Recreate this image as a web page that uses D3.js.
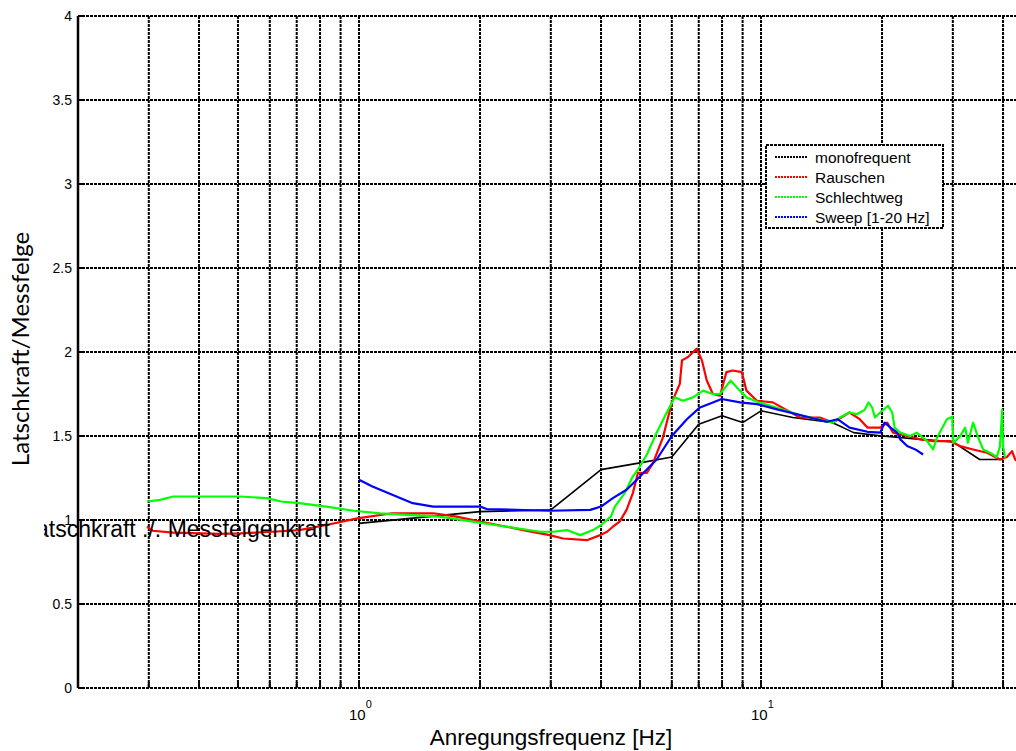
<!DOCTYPE html>
<html>
<head>
<meta charset="utf-8">
<script src="https://cdn.jsdelivr.net/npm/d3@7"></script>
<style>
  body { margin: 0; background: #fff; }
  svg { display: block; font-family: "Liberation Sans", Arial, sans-serif; }
</style>
</head>
<body>
<div id="chart"></div>
<script>
// data
var monoFreq = [1, 2, 3, 4, 5, 6, 7, 8, 9, 10, 12, 15, 16, 17, 20, 25, 30, 35, 40];
var monoVal = [0.98, 1.05, 1.06, 1.30, 1.34, 1.375, 1.57, 1.62, 1.58, 1.65, 1.61, 1.58, 1.55, 1.52, 1.50, 1.48, 1.465, 1.36, 1.36];

var rauschFreq = [0.297, 0.307, 0.345, 0.45, 0.506, 0.61, 0.71, 0.83, 0.99, 1.21, 1.53, 1.75, 2.0, 2.33, 2.56, 2.98, 3.22, 3.69, 3.98, 4.14, 4.28, 4.45,
  4.63, 4.8, 4.94, 5.2, 5.39, 5.7, 6.0, 6.28, 6.36, 6.58, 6.92, 7.13, 7.33, 7.59, 7.91, 8.2, 8.5, 8.96, 9.2, 9.77, 10.7, 12.5, 14.0, 15.1, 16.6,
  17.6, 18.4, 19.8, 20.6, 21.3, 23.1, 24.9, 26.8, 29.5, 31.3, 33.7, 36.5, 39.3, 40.9, 42.1, 42.9, 44];
var rauschVal = [0.96, 0.936, 0.925, 0.917, 0.92, 0.93, 0.94, 0.97, 1.01, 1.04, 1.04, 1.02, 0.99, 0.96, 0.94, 0.91, 0.89, 0.88, 0.91, 0.93, 0.96, 0.99,
  1.06, 1.16, 1.28, 1.28, 1.34, 1.49, 1.70, 1.81, 1.95, 1.97, 2.02, 1.95, 1.83, 1.75, 1.74, 1.88, 1.89, 1.88, 1.77, 1.71, 1.70, 1.61, 1.61, 1.58, 1.64,
  1.60, 1.55, 1.55, 1.58, 1.52, 1.50, 1.48, 1.47, 1.47, 1.44, 1.42, 1.40, 1.36, 1.375, 1.41, 1.36, 1.34];

var schlechtFreq = [0.297, 0.32, 0.345, 0.42, 0.506, 0.59, 0.64, 0.71, 0.83, 0.97, 1.13, 1.32, 1.59, 1.92, 2.33, 2.82, 3.04, 3.29, 3.55, 3.82, 4.0, 4.23,
  4.33, 4.58, 4.8, 4.94, 5.2, 5.5, 5.83, 6.1, 6.4, 6.77, 7.18, 7.59, 7.91, 8.4, 8.7, 9.2, 9.9, 10.9, 12.5, 15.1, 15.7, 16.6, 17.3, 18.1, 18.5, 18.9,
  19.2, 19.8, 20.7, 21.2, 21.5, 22.2, 23.5, 24.4, 25.9, 26.8, 27.4, 29.0, 29.9, 30.1, 31.3, 32.2, 32.7, 33.7, 34.7, 35.7, 37.1, 38.6, 39.3, 39.8,
  40.0, 40.5];
var schlechtVal = [1.11, 1.12, 1.14, 1.14, 1.14, 1.13, 1.11, 1.10, 1.08, 1.055, 1.04, 1.03, 1.02, 0.99, 0.96, 0.93, 0.93, 0.94, 0.91, 0.94, 0.97, 1.02,
  1.08, 1.16, 1.26, 1.30, 1.39, 1.52, 1.64, 1.73, 1.71, 1.73, 1.77, 1.75, 1.75, 1.83, 1.79, 1.73, 1.70, 1.67, 1.625, 1.58, 1.61, 1.64, 1.63, 1.655, 1.70, 1.67,
  1.61, 1.64, 1.68, 1.64, 1.55, 1.52, 1.50, 1.52, 1.47, 1.42, 1.49, 1.60, 1.615, 1.46, 1.50, 1.55, 1.46, 1.58, 1.49, 1.42, 1.40, 1.375, 1.44, 1.655,
  1.44, 1.37];

var sweepFreq = [1.0, 1.08, 1.21, 1.36, 1.53, 2.0, 2.08, 2.98, 3.76, 4.0, 4.28, 4.63, 4.91, 5.5, 6.0, 6.54, 7.05, 7.59, 7.98, 8.87, 9.77, 10.9, 12.5,
  14.6, 15.5, 16.6, 18.4, 19.8, 20.3, 21.0, 21.8, 22.2, 23.1, 24.2, 25.3];
var sweepVal = [1.24, 1.20, 1.15, 1.10, 1.08, 1.08, 1.065, 1.055, 1.06, 1.08, 1.13, 1.18, 1.24, 1.36, 1.50, 1.60, 1.67, 1.70, 1.72, 1.70, 1.69, 1.66, 1.625,
  1.585, 1.60, 1.55, 1.525, 1.52, 1.58, 1.55, 1.52, 1.48, 1.44, 1.42, 1.39];

var seriesNames = ["monofrequent", "Rauschen", "Schlechtweg", "Sweep [1-20 Hz]"];
var seriesColors = ["#000000", "#ff0000", "#00ff00", "#0000ff"];

var yTicks = [0, 0.5, 1, 1.5, 2, 2.5, 3, 3.5, 4];
var xGrid = [0.3, 0.4, 0.5, 0.6, 0.7, 0.8, 0.9, 1, 2, 3, 4, 5, 6, 7, 8, 9, 10, 20, 30, 40];
var xLabels = [1, 10];

var W = 1016, H = 751;

var svg = d3.select("#chart").append("svg")
  .attr("width", W)
  .attr("height", H);

var x = d3.scaleLog().domain([0.2, 50]).range([78, 1042]);
var y = d3.scaleLinear().domain([0, 4]).range([688, 16]);

var plotLeft = x(0.2), plotTop = y(4), plotBottom = y(0);

var defs = svg.append("defs");

// grid
var grid = svg.append("g")
  .attr("stroke", "#000")
  .attr("stroke-width", 2)
  .attr("stroke-dasharray", "3,1");

grid.selectAll(".vg")
  .data(xGrid)
  .enter()
  .append("line")
  .attr("x1", function (d) { return x(d); })
  .attr("x2", function (d) { return x(d); })
  .attr("y1", plotTop)
  .attr("y2", plotBottom);

grid.selectAll(".hg")
  .data(yTicks)
  .enter()
  .append("line")
  .attr("x1", plotLeft)
  .attr("x2", W)
  .attr("y1", function (d) { return y(d); })
  .attr("y2", function (d) { return y(d); });

// small ticks
var ticks = svg.append("g").attr("stroke", "#000").attr("stroke-width", 2);
ticks.selectAll(".xt")
  .data(xGrid)
  .enter()
  .append("line")
  .attr("x1", function (d) { return x(d); })
  .attr("x2", function (d) { return x(d); })
  .attr("y1", plotBottom)
  .attr("y2", plotBottom - 6);
ticks.selectAll(".yt")
  .data(yTicks)
  .enter()
  .append("line")
  .attr("x1", plotLeft)
  .attr("x2", plotLeft + 6)
  .attr("y1", function (d) { return y(d); })
  .attr("y2", function (d) { return y(d); });

// left spine
svg.append("line")
  .attr("x1", plotLeft).attr("x2", plotLeft)
  .attr("y1", plotTop).attr("y2", plotBottom)
  .attr("stroke", "#000")
  .attr("stroke-width", 2.5);

// y tick labels
svg.append("g")
  .selectAll("text")
  .data(yTicks)
  .enter()
  .append("text")
  .attr("x", plotLeft - 6)
  .attr("y", function (d) { return y(d) + 5; })
  .attr("text-anchor", "end")
  .style("font-size", "14px")
  .text(function (d) { return d; });

// x tick labels 10^n
var xl = svg.append("g")
  .selectAll("text")
  .data(xLabels)
  .enter()
  .append("text")
  .attr("x", function (d) { return x(d) - 10; })
  .attr("y", 720)
  .style("font-size", "15px");
xl.append("tspan").text("10");
xl.append("tspan")
  .attr("dy", -12)
  .style("font-size", "11px")
  .text(function (d) { return Math.round(Math.log10(d)); });

// data lines
var line = d3.line()
  .x(function (d) { return x(d[0]); })
  .y(function (d) { return y(d[1]); });

var seriesData = [
  d3.zip(monoFreq, monoVal),
  d3.zip(rauschFreq, rauschVal),
  d3.zip(schlechtFreq, schlechtVal),
  d3.zip(sweepFreq, sweepVal)
];

defs.append("clipPath").attr("id", "plotclip")
  .append("rect")
  .attr("x", plotLeft).attr("y", plotTop)
  .attr("width", W - plotLeft).attr("height", plotBottom - plotTop);

svg.append("g")
  .attr("clip-path", "url(#plotclip)")
  .selectAll("path")
  .data(seriesData)
  .enter()
  .append("path")
  .attr("d", function (d) { return line(d); })
  .attr("fill", "none")
  .attr("stroke", function (d, i) { return seriesColors[i]; })
  .attr("stroke-width", function (d, i) { return i === 0 ? 1.6 : 2.2; })
  .attr("stroke-linejoin", "round");

// misplaced label, clipped at the left
defs.append("clipPath").attr("id", "labclip")
  .append("rect")
  .attr("x", 44).attr("y", 500)
  .attr("width", 400).attr("height", 60);

svg.append("text")
  .attr("clip-path", "url(#labclip)")
  .attr("x", 330)
  .attr("y", 537)
  .attr("text-anchor", "end")
  .style("font-size", "23px")
  .text("Latschkraft ./. Messfelgenkraft");

// axis titles
svg.append("text")
  .attr("transform", "translate(29,349) rotate(-90)")
  .attr("text-anchor", "middle")
  .style("font-family", "Lato, 'Open Sans', sans-serif")
  .style("font-size", "24px")
  .text("Latschkraft/Messfelge");

svg.append("text")
  .attr("x", 551)
  .attr("y", 745)
  .attr("text-anchor", "middle")
  .style("font-size", "22.5px")
  .text("Anregungsfrequenz [Hz]");

// legend
var lg = svg.append("g").attr("transform", "translate(766,145)");
lg.append("rect")
  .attr("width", 177)
  .attr("height", 83)
  .attr("fill", "#fff")
  .attr("stroke", "#000")
  .attr("stroke-width", 2)
  .attr("stroke-dasharray", "3,1");

var items = lg.selectAll(".item")
  .data(seriesNames)
  .enter()
  .append("g")
  .attr("transform", function (d, i) { return "translate(0," + (12 + i * 20) + ")"; });

items.append("line")
  .attr("x1", 9).attr("x2", 42)
  .attr("y1", 0).attr("y2", 0)
  .attr("stroke", function (d, i) { return seriesColors[i]; })
  .attr("stroke-width", 2)
  .attr("stroke-dasharray", "2,1");

items.append("text")
  .attr("x", 49)
  .attr("y", 6)
  .style("font-size", "15.5px")
  .text(function (d) { return d; });
</script>
</body>
</html>
